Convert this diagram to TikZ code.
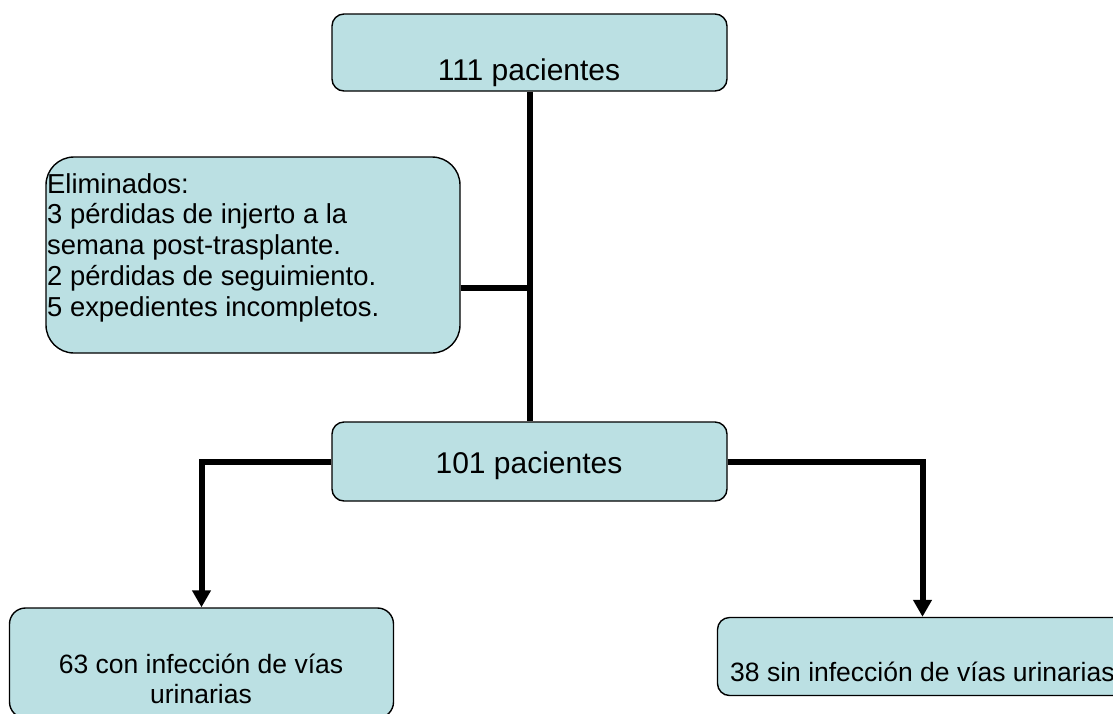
\documentclass[tikz,border=0pt]{standalone}
\usepackage{fontspec}
\setmainfont{Liberation Sans}
\usetikzlibrary{arrows.meta}
\definecolor{boxfill}{RGB}{187,224,227}
\begin{document}
\begin{tikzpicture}[x=1pt,y=-1pt,
  box/.style={draw=black, line width=1.4pt, fill=boxfill, rounded corners=#1, inner sep=0pt, rectangle},
  box/.default=12pt,
  conn/.style={line width=6pt, line cap=butt, line join=miter},
  arr/.style={conn, -{Triangle[width=18pt,length=17pt]}},
  bigtxt/.style={font=\fontsize{30}{34}\selectfont, inner sep=0pt},
  midtxt/.style={font=\fontsize{27.4}{30.9}\selectfont, inner sep=0pt},
  lowtxt/.style={font=\fontsize{26.5}{30}\selectfont, inner sep=0pt},
]
\clip (0,0) rectangle (1113,713);
\fill[white] (0,0) rectangle (1113,713);

% boxes
\node[box, minimum width=395pt, minimum height=77pt] (top) at (529.5,52.5) {};
\node[box=28pt, minimum width=414pt, minimum height=196pt] (elim) at (253,255) {};
\node[box, minimum width=395pt, minimum height=79pt] (mid) at (529.5,461.5) {};
\node[box=16pt, minimum width=384pt, minimum height=110pt] (bl) at (201.5,663) {};
\node[box, minimum width=410pt, minimum height=78pt] (br) at (922.5,656.5) {};

% texts
\node[bigtxt, anchor=base] (toplbl) at (529,80) {111 pacientes};
\node[bigtxt, anchor=base] (midlbl) at (529,473) {101 pacientes};
\node[midtxt, anchor=north west, align=left] (elimlbl) at (47,173)
  {Eliminados:\\3 pérdidas de injerto a la\\semana post-trasplante.\\2 pérdidas de seguimiento.\\5 expedientes incompletos.};
\node[lowtxt, anchor=north, align=center] (bllbl) at (201,654)
  {63 con infección de vías\\urinarias};
\node[lowtxt, anchor=base west] (brlbl) at (730,681) {38 sin infección de vías urinarias};

% connectors
\coordinate (j) at (529.5,287.5);
\draw[conn] (top.south) -- (mid.north);
\draw[conn] (elim.east |- j) -- (j);
\draw[arr] (mid.west) -| (bl.north);
\draw[arr] (mid.east) -| (br.north);
\end{tikzpicture}
\end{document}
